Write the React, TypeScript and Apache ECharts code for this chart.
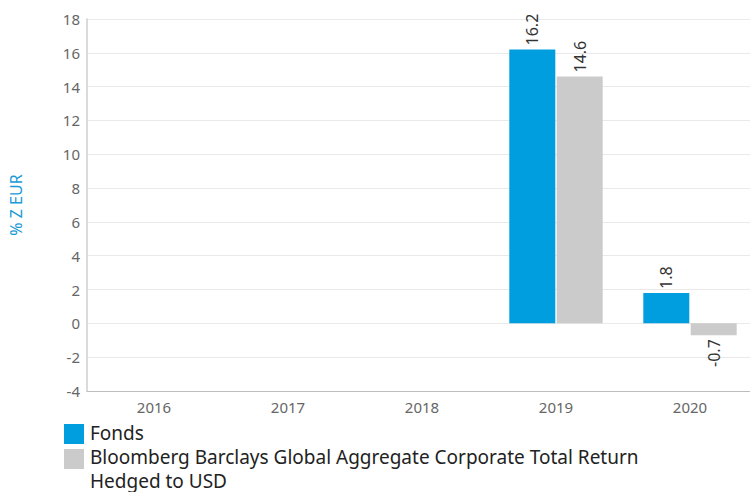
import React, { useEffect, useRef } from "react";
import * as echarts from "echarts";

const categories = ["2016", "2017", "2018", "2019", "2020"];
const fondsValues: (number | null)[] = [null, null, null, 16.2, 1.8];
const benchmarkValues: (number | null)[] = [null, null, null, 14.6, -0.7];
const seriesNames = [
  "Fonds",
  "Bloomberg Barclays Global Aggregate Corporate Total Return Hedged to USD",
];
const legendLines = [
  "Bloomberg Barclays Global Aggregate Corporate Total Return",
  "Hedged to USD",
];
const yAxisName = "% Z EUR";

const BLUE = "#009ddf";
const GREY = "#cbcbcb";
const FONT = "Noto Sans";

function toData(values: (number | null)[]) {
  return values.map((v) =>
    v == null
      ? null
      : v < 0
      ? {
          value: v,
          label: { position: "bottom", align: "right", verticalAlign: "middle" },
        }
      : v
  );
}

export default function App() {
  const ref = useRef<HTMLDivElement>(null);
  useEffect(() => {
    if (!ref.current) return;
    const chart = echarts.init(ref.current, null, { renderer: "svg" });
    const label = {
      show: true,
      position: "top",
      rotate: 90,
      align: "left",
      verticalAlign: "middle",
      distance: 4,
      color: "#333",
      fontSize: 16,
      fontFamily: FONT,
    };
    chart.setOption({
      animation: false,
      textStyle: { fontFamily: FONT },
      grid: {
        left: 87,
        width: 670,
        top: 19,
        height: 372,
        containLabel: false,
        outerBoundsMode: "none",
      },
      xAxis: {
        type: "category",
        data: categories,
        axisLine: { onZero: false, lineStyle: { color: "#bdbdbd", width: 1 } },
        axisTick: { show: false },
        axisLabel: { color: "#666", fontSize: 15, margin: 8, fontFamily: FONT },
      },
      yAxis: {
        type: "value",
        min: -4,
        max: 18,
        interval: 2,
        name: yAxisName,
        nameLocation: "middle",
        nameRotate: 90,
        nameGap: 63,
        nameTextStyle: { color: "#1a9ad6", fontSize: 16, fontFamily: FONT },
        axisLine: { show: true, lineStyle: { color: "#cfcfcf", width: 1.5 } },
        axisTick: { show: false },
        axisLabel: { color: "#666", fontSize: 15, margin: 7, fontFamily: FONT },
        splitLine: { lineStyle: { color: "#e9e9e9", width: 1 } },
      },
      series: [
        {
          name: seriesNames[0],
          type: "bar",
          data: toData(fondsValues),
          barWidth: 46,
          barGap: "3%",
          itemStyle: { color: BLUE },
          label,
        },
        {
          name: seriesNames[1],
          type: "bar",
          data: toData(benchmarkValues),
          barWidth: 46,
          barGap: "3%",
          itemStyle: { color: GREY },
          label,
        },
      ],
      graphic: [
        { type: "rect", left: 64, top: 424, shape: { width: 20, height: 20 }, style: { fill: BLUE } },
        {
          type: "text",
          left: 90,
          top: 423,
          style: { text: seriesNames[0], fontSize: 19, fill: "#222", fontFamily: FONT },
        },
        { type: "rect", left: 64, top: 449, shape: { width: 20, height: 20 }, style: { fill: GREY } },
        {
          type: "text",
          left: 90,
          top: 447,
          style: { text: legendLines[0], fontSize: 19, fill: "#222", fontFamily: FONT },
        },
        {
          type: "text",
          left: 90,
          top: 471,
          style: { text: legendLines[1], fontSize: 19, fill: "#222", fontFamily: FONT },
        },
      ],
    });
    return () => chart.dispose();
  }, []);
  return (
    <div
      ref={ref}
      style={{ position: "fixed", left: 0, top: 0, width: 750, height: 492, background: "#fff" }}
    />
  );
}
